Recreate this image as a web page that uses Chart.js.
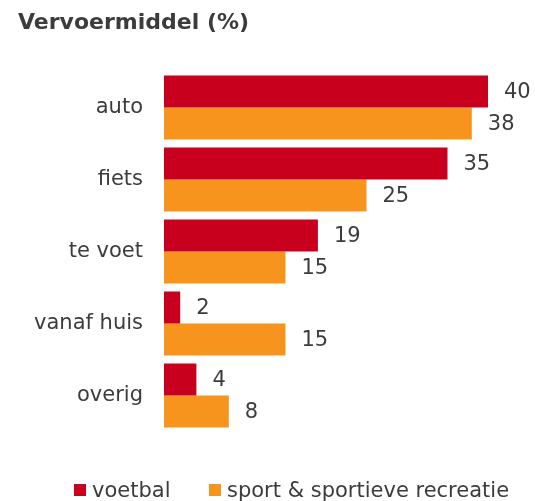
<!DOCTYPE html>
<html>
<head>
<meta charset="utf-8">
<script src="https://cdn.jsdelivr.net/npm/chart.js@4/dist/chart.umd.min.js"></script>
<style>
  html, body { margin: 0; padding: 0; background: #ffffff; }
  #wrap { width: 535px; height: 501px; position: relative; }
</style>
</head>
<body>
<div id="wrap"><canvas id="chart"></canvas></div>
<script>
// Transport mode shares (%) per category
const categories = ['auto', 'fiets', 'te voet', 'vanaf huis', 'overig'];
const voetbal = [40, 35, 19, 2, 4];
const sportRecreatie = [38, 25, 15, 15, 8];
const seriesNames = ['voetbal', 'sport & sportieve recreatie'];
const chartTitle = 'Vervoermiddel (%)';

const RED = '#C8001E';
const ORANGE = '#F7941D';
const TEXT = '#3c3c3c';
const FONT = '"DejaVu Sans", Verdana, sans-serif';

// Title, value labels and legend drawn on the canvas
const decorations = {
  id: 'decorations',
  afterDatasetsDraw(chart) {
    const ctx = chart.ctx;
    ctx.save();
    // value labels at the end of every bar
    ctx.font = '21px ' + FONT;
    ctx.fillStyle = TEXT;
    ctx.textAlign = 'left';
    ctx.textBaseline = 'middle';
    chart.data.datasets.forEach((ds, di) => {
      const meta = chart.getDatasetMeta(di);
      meta.data.forEach((bar, i) => {
        ctx.fillText(String(ds.data[i]), bar.x + 16, bar.y + 1);
      });
    });
    ctx.restore();
  },
  afterDraw(chart) {
    const ctx = chart.ctx;
    ctx.save();
    // title
    ctx.font = 'bold 22px ' + FONT;
    ctx.fillStyle = TEXT;
    ctx.textAlign = 'left';
    ctx.textBaseline = 'alphabetic';
    ctx.fillText(chartTitle, 18, 29);
    // legend
    ctx.font = '21px ' + FONT;
    const items = chart.data.datasets.map(ds => ({ label: ds.label, color: ds.backgroundColor }));
    const xs = [74, 209];
    items.forEach((it, i) => {
      ctx.fillStyle = it.color;
      ctx.fillRect(xs[i], 484, 12, 12);
      ctx.fillStyle = TEXT;
      ctx.fillText(it.label, xs[i] + 18, 497);
    });
    ctx.restore();
  }
};

new Chart(document.getElementById('chart'), {
  type: 'bar',
  data: {
    labels: categories,
    datasets: [
      { label: seriesNames[0], data: voetbal, backgroundColor: RED, borderWidth: 0 },
      { label: seriesNames[1], data: sportRecreatie, backgroundColor: ORANGE, borderWidth: 0 }
    ]
  },
  options: {
    indexAxis: 'y',
    responsive: true,
    maintainAspectRatio: false,
    animation: false,
    events: [],
    barPercentage: 1.0,
    categoryPercentage: 64 / 72,
    layout: { padding: { top: 71.5, bottom: 69.5, left: 0, right: 47 } },
    plugins: {
      legend: { display: false },
      title: { display: false },
      tooltip: { enabled: false }
    },
    scales: {
      x: { display: false, min: 0, max: 40 },
      y: {
        grid: { display: false, drawTicks: false },
        border: { display: false },
        ticks: { font: { family: FONT, size: 21 }, color: TEXT, padding: 21 },
        afterFit(scale) { scale.width = 164; }
      }
    }
  },
  plugins: [decorations]
});
</script>
</body>
</html>
